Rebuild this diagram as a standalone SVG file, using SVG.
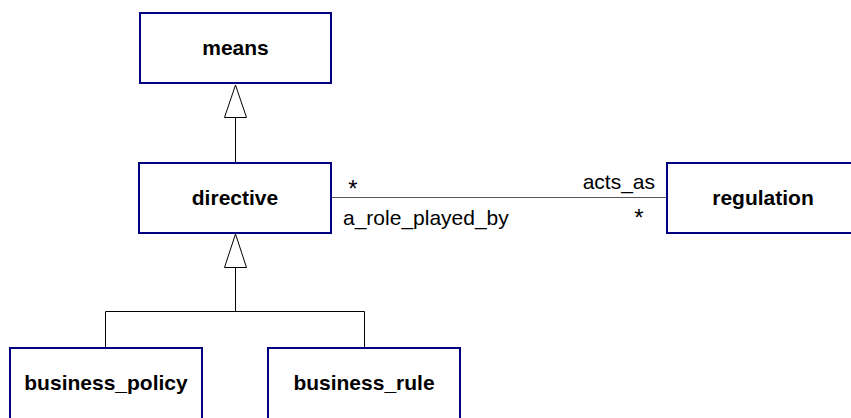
<svg xmlns="http://www.w3.org/2000/svg" width="851" height="418" viewBox="0 0 851 418">
  <style>
    .box { fill: #ffffff; stroke: #000080; stroke-width: 2; }
    .name { font-family: "Liberation Sans", Arial, sans-serif; font-size: 21px; font-weight: bold; fill: #000000; text-anchor: middle; }
    .lbl { font-family: "Liberation Sans", Arial, sans-serif; font-size: 21px; fill: #000000; }
    .mult { font-family: "Liberation Sans", Arial, sans-serif; font-size: 24px; fill: #000000; text-anchor: middle; }
    .edge { fill: none; stroke: #000000; stroke-width: 1; }
    .assoc { fill: none; stroke: #555555; stroke-width: 1; }
    .gen { fill: #ffffff; stroke: #000000; stroke-width: 1; }
  </style>
  <rect width="851" height="418" fill="#ffffff"/>

  <g id="connectors">
    <!-- directive generalizes means -->
    <line class="edge" x1="235.5" y1="118" x2="235.5" y2="162"/>
    <polygon class="gen" points="235.5,85 224.5,117.5 246.5,117.5"/>
    <!-- business_policy / business_rule generalize directive -->
    <polyline class="edge" points="105.5,347 105.5,311.5 364.5,311.5 364.5,347"/>
    <line class="edge" x1="235.5" y1="267" x2="235.5" y2="311.5"/>
    <polygon class="gen" points="235.5,234 224.5,267.5 246.5,267.5"/>
    <!-- association directive — regulation -->
    <line class="assoc" x1="332" y1="197.5" x2="666" y2="197.5"/>
    <text class="mult" x="353" y="197">*</text>
    <text class="lbl" x="343" y="225">a_role_played_by</text>
    <text class="lbl" x="655" y="189" text-anchor="end">acts_as</text>
    <text class="mult" x="639" y="226">*</text>
  </g>

  <g id="means">
    <rect class="box" x="140" y="13" width="191" height="70"/>
    <text class="name" x="235.5" y="55">means</text>
  </g>
  <g id="directive">
    <rect class="box" x="139" y="163" width="192" height="70"/>
    <text class="name" x="235" y="205">directive</text>
  </g>
  <g id="regulation">
    <rect class="box" x="667" y="163" width="192" height="70"/>
    <text class="name" x="763" y="205">regulation</text>
  </g>
  <g id="business_policy">
    <rect class="box" x="10" y="348" width="192" height="80"/>
    <text class="name" x="106" y="390">business_policy</text>
  </g>
  <g id="business_rule">
    <rect class="box" x="268" y="348" width="192" height="80"/>
    <text class="name" x="364" y="390">business_rule</text>
  </g>
</svg>
